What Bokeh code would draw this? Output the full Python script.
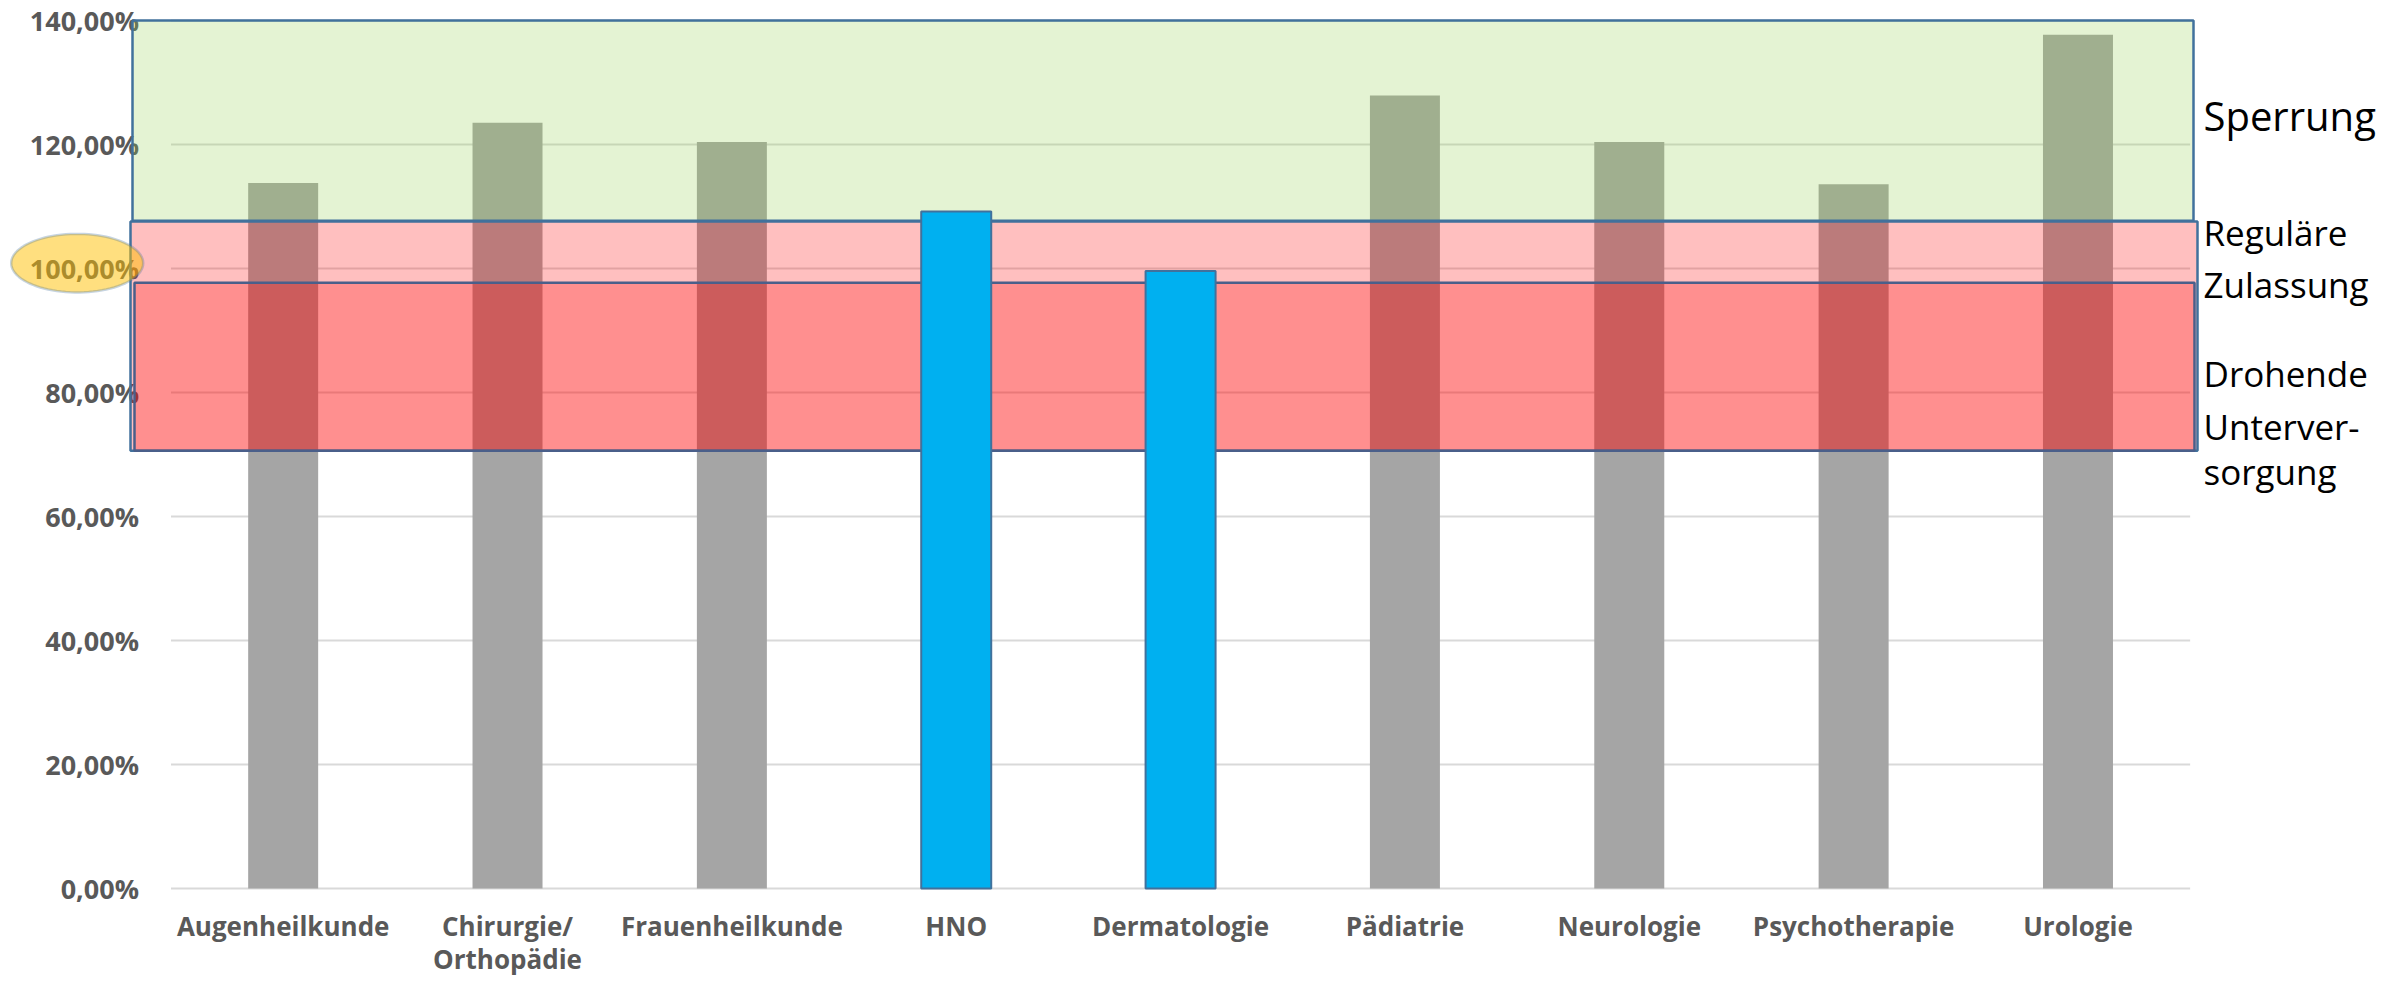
import math
from bokeh.plotting import figure
from bokeh.models import Range1d, BoxAnnotation, PolyAnnotation, ColumnDataSource
from bokeh.core.properties import value
from bokeh.embed import file_html
from bokeh.resources import INLINE

# ---------------- data ----------------
categories = ["Augenheilkunde", "Chirurgie/\nOrthopädie", "Frauenheilkunde", "HNO",
              "Dermatologie", "Pädiatrie", "Neurologie", "Psychotherapie", "Urologie"]
values = [113.8, 123.5, 120.4, 109.2, 99.6, 127.9, 120.4, 113.6, 137.7]
highlighted = ["HNO", "Dermatologie"]

y_ticks = [0, 20, 40, 60, 80, 100, 120, 140]
y_tick_labels = ["0,00%", "20,00%", "40,00%", "60,00%", "80,00%", "100,00%", "120,00%", "140,00%"]

# zones (percent bounds)
sperrung_range = [107.7, 140.0]
regulaer_range = [70.6, 107.6]
drohend_range = [70.6, 97.7]
marked_tick = 100

zone_texts = ["Sperrung", "Reguläre", "Zulassung", "Drohende", "Unterver-", "sorgung"]

# ---------------- layout ----------------
W, H = 2389, 978
FONT = "Open Sans"
LABEL_COLOR = "#595959"
BORDER = "#41719C"

PX_PER_CAT = 224.35          # width of one category slot in pixels
X0_PX = 170.5                # canvas x where the first category slot starts
Y0_PX = 888.0                # canvas y of the 0 % line
PX_PER_PCT = 6.2             # pixels per percent point


def cx(px):
    """canvas x pixel -> x data coordinate"""
    return (px - X0_PX) / PX_PER_CAT


def cy(py):
    """canvas y pixel (from top) -> y data coordinate"""
    return (Y0_PX - py) / PX_PER_PCT


n_cat = len(categories)
positions = [i + 0.5 for i in range(n_cat)]

p = figure(x_range=Range1d(cx(0), cx(W)), y_range=Range1d(cy(H), cy(0)),
           width=W, height=H, output_backend="svg", toolbar_location=None,
           x_axis_location=None, y_axis_location=None,
           min_border_left=0, min_border_right=0, min_border_top=0, min_border_bottom=0)
p.outline_line_color = None
p.background_fill_color = "white"
p.xgrid.visible = False
p.ygrid.visible = False

# horizontal gridlines across the category area
p.segment(x0=[0] * len(y_ticks), x1=[n_cat] * len(y_ticks), y0=y_ticks, y1=y_ticks,
          line_color="#D9D9D9", line_width=2, level="underlay")

# y tick labels
p.text(x=[cx(138.5)] * len(y_ticks), y=y_ticks, text=y_tick_labels,
       text_font=value(FONT), text_font_style="bold", text_font_size="27px",
       text_color=LABEL_COLOR, text_align="right", text_baseline="middle")

# category labels (first and second line)
line1 = [c.split("\n")[0] for c in categories]
p.text(x=positions, y=[cy(925)] * n_cat, text=line1,
       text_font=value(FONT), text_font_style="bold", text_font_size="26px",
       text_color=LABEL_COLOR, text_align="center", text_baseline="middle")
pos2 = [pos for pos, c in zip(positions, categories) if "\n" in c]
line2 = [c.split("\n")[1] for c in categories if "\n" in c]
p.text(x=pos2, y=[cy(958)] * len(pos2), text=line2,
       text_font=value(FONT), text_font_style="bold", text_font_size="26px",
       text_color=LABEL_COLOR, text_align="center", text_baseline="middle")

grey = ColumnDataSource(dict(
    x=[pos for pos, c in zip(positions, categories) if c not in highlighted],
    top=[v for c, v in zip(categories, values) if c not in highlighted]))
blue = ColumnDataSource(dict(
    x=[pos for pos, c in zip(positions, categories) if c in highlighted],
    top=[v for c, v in zip(categories, values) if c in highlighted]))

p.vbar(x="x", top="top", width=0.312, source=grey, fill_color="#A5A5A5", line_color=None)

# zone labels on the right (vertical centre of each text line, in percent)
zone_y = [124.6, 105.8, 97.5, 83.1, 74.5, 67.2]
zone_size = ["40px", "35px", "35px", "35px", "35px", "35px"]
p.text(x=[cx(2203)] * len(zone_texts), y=zone_y, text=zone_texts,
       text_font=value(FONT), text_font_size=zone_size, text_color="black",
       text_align="left", text_baseline="middle")

# zones
p.add_layout(BoxAnnotation(left=cx(132), right=cx(2193),
                           bottom=sperrung_range[0], top=sperrung_range[1],
                           fill_color="#92D050", fill_alpha=0.25,
                           line_color=BORDER, line_width=2.5, line_alpha=1))
p.add_layout(BoxAnnotation(left=cx(130), right=cx(2197),
                           bottom=regulaer_range[0], top=regulaer_range[1],
                           fill_color="#FF0000", fill_alpha=0.25,
                           line_color=BORDER, line_width=2.5, line_alpha=1))
p.add_layout(BoxAnnotation(left=cx(134), right=cx(2194),
                           bottom=drohend_range[0], top=drohend_range[1],
                           fill_color="#FF0000", fill_alpha=0.25,
                           line_color="#4A5F8A", line_width=2.5, line_alpha=1))

# highlighted bars on top
p.vbar(x="x", top="top", width=0.312, source=blue, fill_color="#00B0F0",
       line_color=BORDER, line_width=2, level="overlay")

# ellipse around the 100 % tick label
n = 90
ex, erx = cx(76.7), 66 / PX_PER_CAT
ey, ery = marked_tick + 0.86, 29.3 / PX_PER_PCT
xs = [ex + erx * math.cos(2 * math.pi * i / n) for i in range(n)]
ys = [ey + ery * math.sin(2 * math.pi * i / n) for i in range(n)]
p.add_layout(PolyAnnotation(xs=xs, ys=ys, fill_color="#FFC000", fill_alpha=0.5,
                            line_color=BORDER, line_width=2.5))

open("out.html", "w").write(file_html(p, INLINE))
